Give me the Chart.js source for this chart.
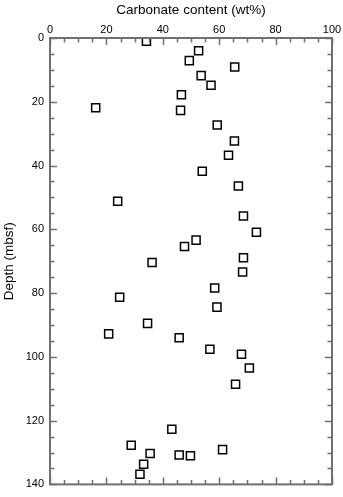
<!DOCTYPE html>
<html>
<head>
<meta charset="utf-8">
<script src="https://cdn.jsdelivr.net/npm/chart.js@4.4.1/dist/chart.umd.min.js"></script>
<style>
  html, body { margin: 0; padding: 0; background: #fff; }
  #wrap { width: 343px; height: 497px; }
</style>
</head>
<body>
<div id="wrap"><canvas id="chart" width="343" height="497"></canvas></div>
<script>
// carbonate (wt%) and depth (mbsf)
const carbonate = [34.2, 52.7, 49.4, 65.5, 53.6, 57.1, 46.6, 16.2, 46.3, 59.3,
  65.4, 63.3, 54.0, 66.8, 24.0, 68.6, 73.2, 51.8, 47.7, 68.6,
  36.2, 68.3, 58.4, 24.7, 59.2, 34.6, 20.8, 45.8, 56.7, 67.9,
  70.7, 65.8, 43.2, 28.8, 61.2, 35.5, 45.8, 49.8, 33.2, 31.9];
const depth = [1.0, 4.0, 7.1, 9.1, 11.8, 14.8, 17.8, 21.9, 22.7, 27.3,
  32.3, 36.8, 41.8, 46.4, 51.2, 55.8, 60.9, 63.4, 65.4, 68.9,
  70.4, 73.4, 78.4, 81.3, 84.4, 89.5, 92.8, 94.0, 97.6, 99.2,
  103.5, 108.6, 122.7, 127.7, 129.1, 130.3, 130.8, 131.0, 133.7, 136.8];
const xTickLabels = [0, 20, 40, 60, 80, 100];
const yTickLabels = [0, 20, 40, 60, 80, 100, 120, 140];

const AXIS = '#707070';
const FONT = 'Liberation Sans, Arial, Helvetica, sans-serif';

// frame and inward ticks on all four sides
const framePlugin = {
  id: 'frame',
  afterDraw(chart) {
    const { ctx, chartArea: a, scales } = chart;
    const xs = scales.x, ys = scales.y;
    ctx.save();
    ctx.strokeStyle = AXIS;
    ctx.lineWidth = 1.5;
    for (let v = 0; v <= 100; v += 5) {
      const px = Math.round(xs.getPixelForValue(v)) + 0.5;
      const len = v % 20 === 0 ? 7 : 4.5;
      ctx.beginPath();
      ctx.moveTo(px, a.top); ctx.lineTo(px, a.top + len);
      ctx.moveTo(px, a.bottom); ctx.lineTo(px, a.bottom - len);
      ctx.stroke();
    }
    for (let v = 0; v <= 140; v += 5) {
      const py = Math.round(ys.getPixelForValue(v)) + 0.5;
      const len = v % 20 === 0 ? 7 : 4.5;
      ctx.beginPath();
      ctx.moveTo(a.left, py); ctx.lineTo(a.left + len, py);
      ctx.moveTo(a.right, py); ctx.lineTo(a.right - len, py);
      ctx.stroke();
    }
    ctx.lineWidth = 2;
    ctx.strokeRect(a.left, a.top, a.right - a.left, a.bottom - a.top);
    ctx.restore();
  }
};

new Chart(document.getElementById('chart'), {
  type: 'scatter',
  data: {
    datasets: [{
      data: carbonate.map((c, i) => ({ x: c, y: depth[i] })),
      pointStyle: 'rect',
      pointRadius: 5.7,
      pointBorderWidth: 1.5,
      pointBorderColor: '#000',
      pointBackgroundColor: '#fff'
    }]
  },
  options: {
    responsive: false,
    animation: false,
    layout: { padding: { left: 0, right: 11, top: 0, bottom: 9 } },
    plugins: { legend: { display: false }, tooltip: { enabled: false } },
    scales: {
      x: {
        type: 'linear',
        position: 'top',
        min: 0, max: 100,
        afterFit(s) { s.height = 38; },
        afterBuildTicks(s) { s.ticks = xTickLabels.map(v => ({ value: v })); },
        grid: { display: false, drawTicks: false },
        border: { display: false },
        ticks: { padding: 1, color: '#000', font: { family: FONT, size: 11 }, maxRotation: 0 },
        title: { display: true, text: 'Carbonate content (wt%)', color: '#000',
                 padding: { top: 2, bottom: 0 }, font: { family: FONT, size: 13.5 } }
      },
      y: {
        type: 'linear',
        reverse: true,
        min: 0, max: 140,
        afterFit(s) { s.width = 50; },
        afterBuildTicks(s) { s.ticks = yTickLabels.map(v => ({ value: v })); },
        grid: { display: false, drawTicks: false },
        border: { display: false },
        ticks: { padding: 6, color: '#000', font: { family: FONT, size: 11 } },
        title: { display: true, text: 'Depth (mbsf)', color: '#000',
                 padding: { top: 1, bottom: 0 }, font: { family: FONT, size: 13.5 } }
      }
    }
  },
  plugins: [framePlugin]
});
</script>
</body>
</html>
